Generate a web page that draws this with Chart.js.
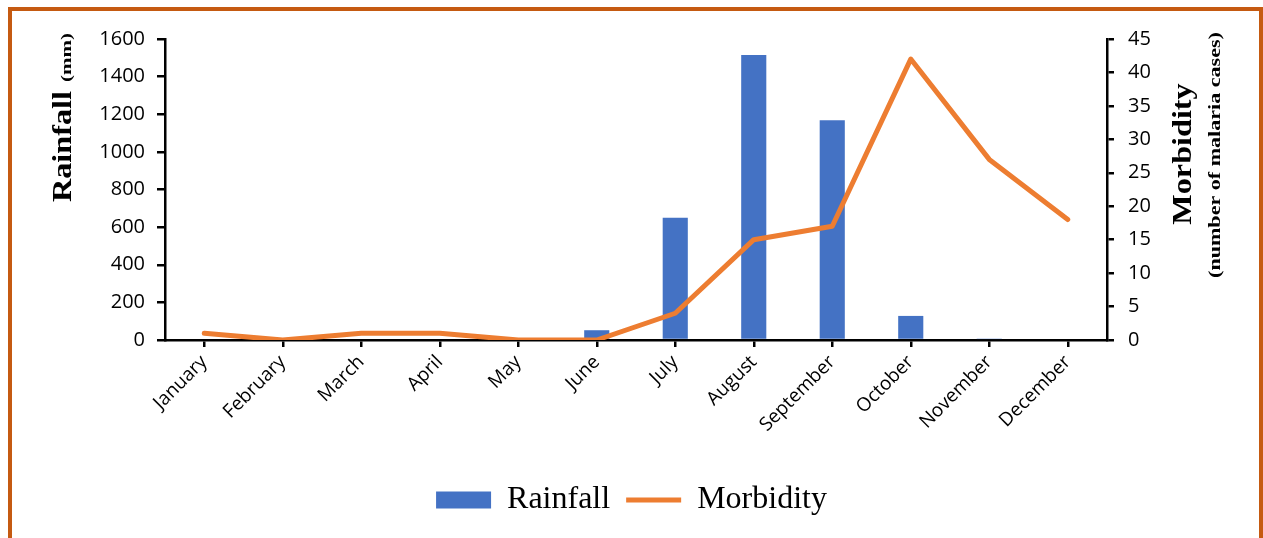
<!DOCTYPE html>
<html>
<head>
<meta charset="utf-8">
<script src="https://cdn.jsdelivr.net/npm/chart.js@4.4.1/dist/chart.umd.min.js"></script>
<style>
  html, body { margin: 0; padding: 0; background: #fff; }
  #wrap { position: relative; width: 1263px; height: 538px; overflow: hidden; }
  #frame { position: absolute; left: 8px; top: 7px; width: 1255px; height: 600px; box-sizing: border-box; border: 4px solid #c55a11; }
  #chart { position: absolute; left: 0; top: 0; }
</style>
</head>
<body>
<div id="wrap">
  <div id="frame"></div>
  <canvas id="chart" width="1263" height="538"></canvas>
</div>
<script>
var months = ['January', 'February', 'March', 'April', 'May', 'June', 'July', 'August', 'September', 'October', 'November', 'December'];
var rainfall = [0, 0, 0, 0, 0, 52, 650, 1515, 1168, 128, 5, 0];
var morbidity = [1, 0, 1, 1, 0, 0, 4, 15, 17, 42, 27, 18];

var blue = '#4472c4';
var orange = '#ed7d31';
var tickFont = { family: 'Open Sans', size: 20 };

// axis titles mix two font sizes, so they are drawn by hand
var axisTitles = {
    id: 'axisTitles',
    afterDraw: function(chart) {
        var ctx = chart.ctx, area = chart.chartArea;
        function run(text, x, y, size, sx, align) {
            ctx.save();
            ctx.translate(x, y);
            ctx.rotate(-Math.PI / 2);
            ctx.scale(sx, 1);
            ctx.font = 'bold ' + size + 'px "Liberation Serif"';
            ctx.fillStyle = '#000';
            ctx.textAlign = align;
            ctx.textBaseline = 'alphabetic';
            ctx.fillText(text, 0, 0);
            var w = ctx.measureText(text).width * sx;
            ctx.restore();
            return w;
        }
        var lx = area.left - 94;
        var ly = area.top + 163;
        var w = run('Rainfall', lx, ly, 28, 1.15, 'left');
        run('(mm)', lx, ly - w - 9, 15, 1.4, 'left');

        run('Morbidity', area.right + 84, area.top + 115, 28, 1.15, 'center');
        run('(number of malaria cases)', area.right + 113, area.top + 116, 16, 1.38, 'center');
    }
};

function plain(v) { return String(v); }

new Chart(document.getElementById('chart'), {
    type: 'bar',
    data: {
        labels: months,
        datasets: [{
            type: 'bar',
            label: 'Rainfall',
            data: rainfall,
            backgroundColor: blue,
            barPercentage: 0.32,
            categoryPercentage: 1,
            yAxisID: 'y',
            order: 1,
            pointStyle: 'rect'
        }, {
            type: 'line',
            label: 'Morbidity',
            data: morbidity,
            borderColor: orange,
            backgroundColor: orange,
            borderWidth: 5,
            borderCapStyle: 'round',
            borderJoinStyle: 'round',
            pointRadius: 0,
            pointHoverRadius: 0,
            tension: 0,
            yAxisID: 'y1',
            order: 0,
            pointStyle: 'line'
        }]
    },
    options: {
        responsive: false,
        animation: false,
        layout: { padding: { top: 39, left: 0, right: 0, bottom: 12 } },
        scales: {
            x: {
                offset: true,
                grid: { offset: false, drawOnChartArea: false, tickLength: 7, tickColor: '#000', lineWidth: 2.5 },
                border: { color: '#000', width: 2.5 },
                ticks: { color: '#000', font: { family: 'Open Sans', size: 19 }, maxRotation: 45, minRotation: 45, padding: 4 },
                afterFit: function(scale) { scale.height = 128; }
            },
            y: {
                position: 'left',
                min: 0, max: 1600,
                grid: { drawOnChartArea: false, tickLength: 8, tickColor: '#000', lineWidth: 2.5 },
                border: { color: '#000', width: 2.5 },
                ticks: { stepSize: 200, color: '#000', font: tickFont, padding: 12, callback: plain },
                afterFit: function(scale) { scale.width = 165; }
            },
            y1: {
                position: 'right',
                min: 0, max: 45,
                grid: { drawOnChartArea: false, tickLength: 7, tickColor: '#000', lineWidth: 2.5 },
                border: { color: '#000', width: 2.5 },
                ticks: { stepSize: 5, color: '#000', font: tickFont, padding: 14, callback: plain },
                afterFit: function(scale) { scale.width = 156; }
            }
        },
        plugins: {
            tooltip: { enabled: false },
            legend: {
                position: 'bottom',
                labels: {
                    usePointStyle: true,
                    pointStyleWidth: 55,
                    boxHeight: 17,
                    padding: 16,
                    color: '#000',
                    font: { family: 'Liberation Serif', size: 32 },
                    sort: function(a, b) { return a.datasetIndex - b.datasetIndex; }
                }
            }
        }
    },
    plugins: [axisTitles]
});
</script>
</body>
</html>
